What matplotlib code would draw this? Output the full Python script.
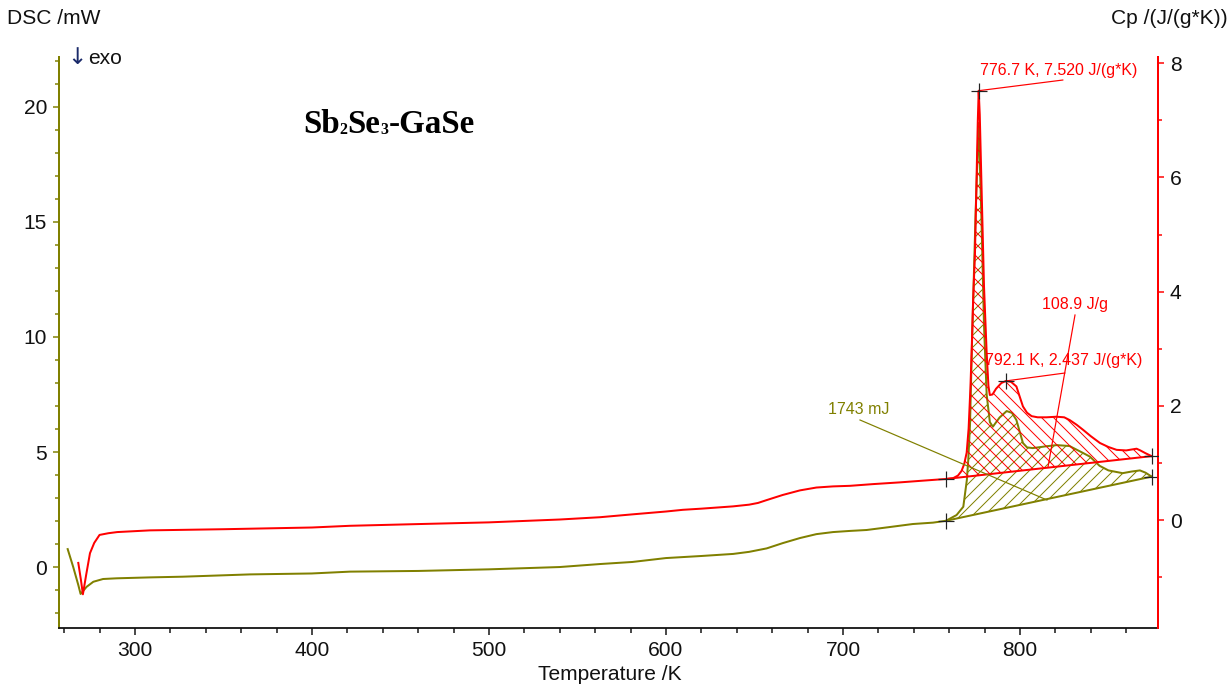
import numpy as np
import matplotlib
matplotlib.use("Agg")
import matplotlib.pyplot as plt
from matplotlib.ticker import MultipleLocator, FixedLocator

plt.rcParams['font.family'] = ['Liberation Sans', 'DejaVu Sans']
plt.rcParams['hatch.linewidth'] = 1.0

# ---------------- data ----------------
dsc_T = [262.0, 265.1, 268.0, 269.3, 272.7, 276.5, 282.0, 289.7, 308.5, 327.0, 365.0,
         399.8, 421.5, 460.0, 500.0, 540.0, 562.7, 581.0, 600.0, 620.0, 638.0, 647.0,
         656.9, 666.0, 675.7, 685.0, 694.4, 704.0, 713.4, 726.6, 739.5, 750.9, 758.2,
         764.2, 768.0, 770.0, 770.8, 771.8, 773.0, 775.0, 776.7, 778.3, 779.7, 781.2,
         783.0, 784.7, 788.5, 792.5, 795.5, 798.0, 801.7, 804.0, 807.3, 815.0, 820.7,
         828.0, 835.6, 839.5, 845.0, 850.0, 858.0, 863.0, 867.8, 871.0, 874.4]
dsc_mW = [0.78, 0.01, -0.78, -1.17, -0.86, -0.64, -0.52, -0.49, -0.45, -0.42, -0.32,
          -0.28, -0.20, -0.17, -0.10, 0.00, 0.13, 0.22, 0.39, 0.48, 0.57, 0.66,
          0.81, 1.04, 1.26, 1.43, 1.52, 1.57, 1.61, 1.74, 1.87, 1.93, 2.01,
          2.26, 2.62, 3.78, 4.65, 6.2, 10.0, 15.5, 19.3, 15.0, 10.5, 7.5,
          6.3, 6.1, 6.5, 6.78, 6.7, 6.39, 5.39, 5.2, 5.17, 5.25, 5.3,
          5.26, 4.96, 4.8, 4.4, 4.2, 4.08, 4.15, 4.2, 4.1, 3.93]

cp_T = [268.0, 269.5, 270.6, 272.5, 274.6, 277.0, 280.0, 285.0, 290.0, 308.5, 350.0,
        400.0, 421.5, 460.0, 500.0, 540.0, 562.7, 581.0, 600.0, 609.6, 620.0, 637.9,
        647.0, 652.0, 656.9, 666.0, 675.7, 685.0, 694.4, 704.0, 717.0, 732.0, 745.0, 758.2,
        762.0, 765.0, 767.0, 768.5, 769.9, 771.0, 772.0, 772.7, 773.5, 774.6, 775.5,
        776.2, 776.7, 777.3, 778.3, 779.7, 781.2, 782.2, 783.0, 784.5, 786.5, 789.5,
        792.1, 795.0, 798.0, 800.0, 801.7, 804.0, 806.6, 810.0, 815.0, 820.7, 825.0, 828.2,
        832.0, 835.7, 840.0, 845.2, 850.0, 854.6, 860.0, 865.9, 868.0, 871.0, 874.4]
cp_val = [-0.75, -1.05, -1.30, -0.95, -0.58, -0.40, -0.26, -0.23, -0.21, -0.18, -0.16,
          -0.13, -0.10, -0.07, -0.04, 0.01, 0.05, 0.10, 0.15, 0.18, 0.20, 0.24,
          0.27, 0.30, 0.35, 0.44, 0.52, 0.57, 0.59, 0.60, 0.63, 0.66, 0.69, 0.72,
          0.73, 0.78, 0.86, 0.98, 1.18, 1.6, 2.3, 2.93, 3.8, 4.68, 6.0,
          7.0, 7.52, 7.1, 5.84, 4.09, 2.93, 2.35, 2.19, 2.2, 2.3, 2.4,
          2.437, 2.42, 2.34, 2.15, 1.99, 1.88, 1.82, 1.80, 1.80, 1.81, 1.80, 1.75,
          1.67, 1.58, 1.47, 1.35, 1.28, 1.23, 1.22, 1.25, 1.22, 1.17, 1.12]

# integration limits / baselines
int_T = [758.2, 874.4]
dsc_base = [2.01, 3.93]
cp_base = [0.72, 1.12]

# peak annotations
peak1_T, peak1_cp = 776.7, 7.520
peak2_T, peak2_cp = 792.1, 2.437
area_cp_label = "108.9 J/g"
area_dsc_label = "1743 mJ"

x_major = [300, 400, 500, 600, 700, 800]
left_major = [0, 5, 10, 15, 20]
right_major = [0, 2, 4, 6, 8]

title_parts = [("Sb", False), ("2", True), ("Se", False), ("3", True), ("-GaSe", False)]

# ---------------- style ----------------
RED = '#ff0000'
OLIVE = '#808000'
W, H = 1232, 690
DPI = 72

fig = plt.figure(figsize=(W / DPI, H / DPI), dpi=DPI)
ax = fig.add_axes([59 / W, (H - 628) / H, (1158 - 59) / W, (628 - 57) / H])
ax2 = ax.twinx()

def fxy(x, y):
    return (x / W, 1 - y / H)

ax.set_xlim(257.1, 878.0)
ax.set_ylim(-2.65, 22.17)
ax2.set_ylim(-1.89, 8.11)

dT = np.array(dsc_T); dV = np.array(dsc_mW)
cT = np.array(cp_T); cV = np.array(cp_val)

# hatched areas
m = (dT >= int_T[0]) & (dT <= int_T[1])
ax.fill_between(dT[m], dV[m], np.interp(dT[m], int_T, dsc_base),
                facecolor='none', edgecolor=OLIVE, linewidth=0, hatch='//', zorder=2)
ax.plot(int_T, dsc_base, color=OLIVE, lw=2, zorder=3)
m2 = (cT >= int_T[0]) & (cT <= int_T[1])
ax2.fill_between(cT[m2], cV[m2], np.interp(cT[m2], int_T, cp_base),
                 facecolor='none', edgecolor=RED, linewidth=0, hatch='\\\\', zorder=2)
ax2.plot(int_T, cp_base, color=RED, lw=2, zorder=3)

ax.plot(dT, dV, color=OLIVE, lw=2, zorder=4)
ax2.plot(cT, cV, color=RED, lw=2, zorder=4)

# + markers
ax.plot(int_T, dsc_base, linestyle='none', marker='+', ms=16, mew=1.2, color='#222222', zorder=6)
ax2.plot(int_T, cp_base, linestyle='none', marker='+', ms=16, mew=1.2, color='#222222', zorder=6)
ax2.plot([peak1_T, peak2_T], [peak1_cp, peak2_cp], linestyle='none', marker='+', ms=16,
         mew=1.2, color='#222222', zorder=6)

# spines / ticks
for a in (ax, ax2):
    a.spines['top'].set_visible(False)
ax.spines['right'].set_visible(False)
ax2.spines['left'].set_visible(False)
ax2.spines['bottom'].set_visible(False)
ax.spines['left'].set_color(OLIVE)
ax.spines['left'].set_linewidth(2)
ax2.spines['right'].set_color(RED)
ax2.spines['right'].set_linewidth(2)
ax.spines['bottom'].set_color('#111111')
ax.spines['bottom'].set_linewidth(1.8)

ax.xaxis.set_major_locator(FixedLocator(x_major))
ax.xaxis.set_minor_locator(MultipleLocator(20))
ax.yaxis.set_major_locator(FixedLocator(left_major))
ax.yaxis.set_minor_locator(MultipleLocator(1))
ax2.yaxis.set_major_locator(FixedLocator(right_major))
ax2.yaxis.set_minor_locator(MultipleLocator(1))

ax.tick_params(axis='x', which='major', length=7, width=1.5, color='#111111',
               labelsize=21, pad=6, labelcolor='#111111')
ax.tick_params(axis='x', which='minor', length=5, width=1.5, color='#111111')
ax.tick_params(axis='y', which='major', length=6, width=1.5, color=OLIVE,
               labelsize=21, pad=6, labelcolor='#111111')
ax.tick_params(axis='y', which='minor', length=4, width=1.5, color=OLIVE)
ax2.tick_params(axis='y', which='major', length=6, width=1.5, color=RED,
                labelsize=21, pad=6, labelcolor='#111111')
ax2.tick_params(axis='y', which='minor', length=4, width=1.5, color=RED)

# axis texts
fig.text(*fxy(7, 19), "DSC /mW", fontsize=21, ha='left', va='center', color='#111111')
fig.text(*fxy(1228, 19), "Cp /(J/(g*K))", fontsize=21, ha='right', va='center', color='#111111')
fig.text(*fxy(610, 674), "Temperature /K", fontsize=21, ha='center', va='center', color='#111111')
fig.text(*fxy(67, 58), "\u2193", fontsize=23, family='DejaVu Sans', ha='left', va='center',
         color='#1a2a6a')
fig.text(*fxy(88, 58), "exo", fontsize=21, ha='left', va='center', color='#111111')

# title, built piece by piece (small subscripts)
renderer = fig.canvas.get_renderer()
x_cur = 303.0
base_y = 133.0
for txt, is_sub in title_parts:
    t = fig.text(x_cur / W, 1 - (base_y + (1.5 if is_sub else 0)) / H, txt,
                 fontsize=(16 if is_sub else 33), family='Liberation Serif',
                 weight='bold', ha='left', va='baseline', color='black')
    bb = t.get_window_extent(renderer=renderer)
    x_cur += bb.width

# annotations
fig.text(*fxy(980, 70), f"{peak1_T:.1f} K, {peak1_cp:.3f} J/(g*K)", fontsize=16,
         color=RED, ha='left', va='center')
ax2.annotate('', xy=(peak1_T, peak1_cp), xycoords='data', xytext=fxy(1063, 80),
             textcoords='figure fraction',
             arrowprops=dict(arrowstyle='-', color=RED, lw=1.2, shrinkA=0, shrinkB=0))

fig.text(*fxy(985, 360), f"{peak2_T:.1f} K, {peak2_cp:.3f} J/(g*K)", fontsize=16,
         color=RED, ha='left', va='center')
ax2.annotate('', xy=(peak2_T, peak2_cp), xycoords='data', xytext=fxy(1065, 373),
             textcoords='figure fraction',
             arrowprops=dict(arrowstyle='-', color=RED, lw=1.2, shrinkA=0, shrinkB=0))

fig.text(*fxy(1042, 305), area_cp_label, fontsize=16, color=RED, ha='left', va='center')
fig.add_artist(plt.Line2D([1075 / W, 1048 / W], [1 - 315 / H, 1 - 467 / H],
                          transform=fig.transFigure, color=RED, lw=1.2))

fig.text(*fxy(828, 410), area_dsc_label, fontsize=16, color=OLIVE, ha='left', va='center')
fig.add_artist(plt.Line2D([860 / W, 1047 / W], [1 - 420 / H, 1 - 500 / H],
                          transform=fig.transFigure, color=OLIVE, lw=1.2))

fig.savefig("out.png", dpi=DPI)
